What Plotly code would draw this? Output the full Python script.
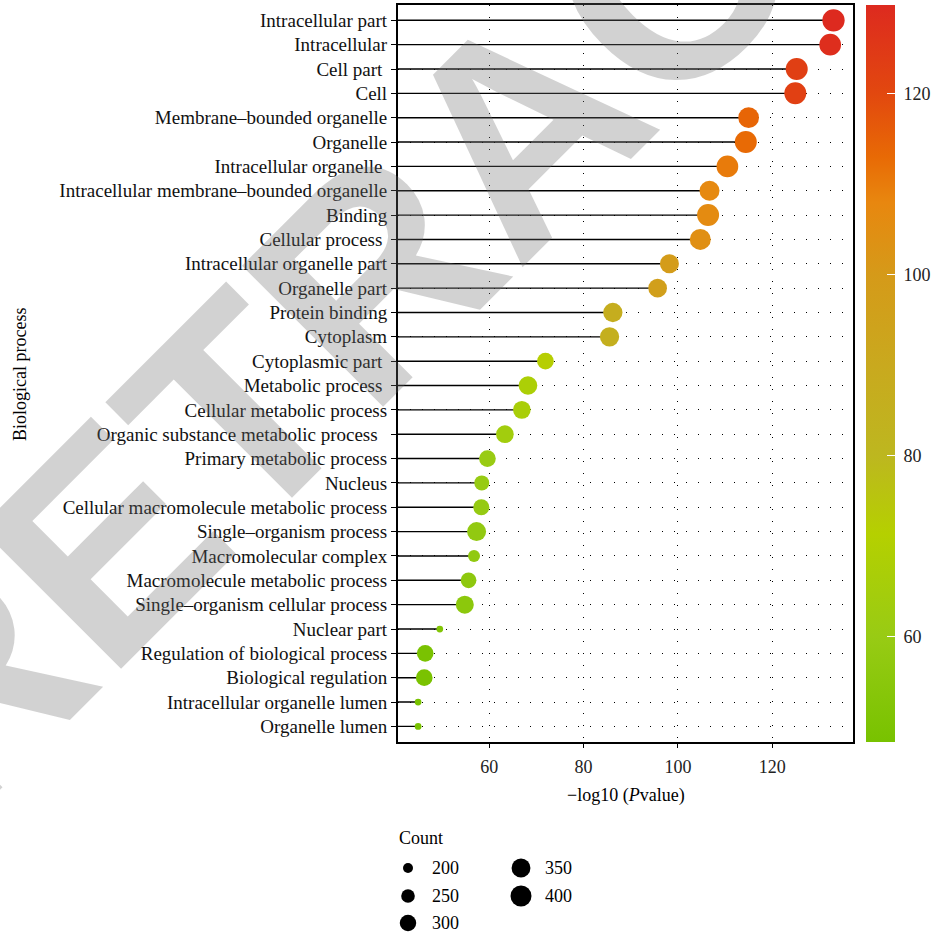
import math
import plotly.graph_objects as go

# GO terms, top to bottom
terms = [
    "Intracellular part", "Intracellular", "Cell part\u00a0", "Cell",
    "Membrane\u2013bounded organelle", "Organelle", "Intracellular organelle\u00a0",
    "Intracellular membrane\u2013bounded organelle", "Binding", "Cellular process\u00a0",
    "Intracellular organelle part", "Organelle part", "Protein binding", "Cytoplasm",
    "Cytoplasmic part\u00a0", "Metabolic process\u00a0", "Cellular metabolic process",
    "Organic substance metabolic process\u00a0\u00a0", "Primary metabolic process", "Nucleus",
    "Cellular macromolecule metabolic process", "Single\u2013organism process",
    "Macromolecular complex", "Macromolecule metabolic process",
    "Single\u2013organism cellular process", "Nuclear part",
    "Regulation of biological process", "Biological regulation",
    "Intracellular organelle lumen", "Organelle lumen",
]

# -log10(P value)
neg_log_p = [133.0, 132.3, 125.2, 124.9, 115.0, 114.4, 110.5, 106.7, 106.4, 104.75,
             98.2, 95.7, 86.2, 85.5, 71.9, 68.2, 66.9, 63.3, 59.6, 58.4,
             58.3, 57.3, 56.75, 55.6, 54.8, 49.5, 46.4, 46.2, 44.9, 44.9]

# colour variable
colour_val = [129.8, 128.5, 123.0, 122.5, 114.0, 113.0, 110.0, 107.0, 106.5, 104.5,
              99.0, 97.0, 87.0, 86.0, 72.0, 68.0, 66.5, 64.0, 60.5, 59.5,
              59.0, 58.0, 57.5, 56.5, 55.5, 52.0, 49.0, 49.0, 48.4, 48.4]

# gene counts
counts = [433, 417, 425, 425, 393, 425, 417, 376, 425, 400,
          353, 346, 360, 360, 305, 346, 325, 325, 305, 273,
          291, 353, 226, 286, 331, 168, 305, 305, 168, 168]

legend_breaks = [200, 250, 300, 350, 400]
x_ticks = [60, 80, 100, 120]
cbar_ticks = [60, 80, 100, 120]

# colour gradient anchors (value, colour)
grad = [(48.4, "#78C200"), (60.0, "#98CB14"), (71.4, "#B5D000"), (80.0, "#BDB71F"),
        (90.0, "#C9A91E"), (100.0, "#D59A19"), (108.0, "#E8870F"), (113.0, "#E86A05"),
        (120.0, "#E2480F"), (129.8, "#DD2A1F")]
cmin, cmax = grad[0][0], grad[-1][0]
colorscale = [[(v - cmin) / (cmax - cmin), c] for v, c in grad]

FONT = "Liberation Serif"
W, H = 938, 935


def diameter(n):
    # area-proportional size scale
    return math.sqrt(1.705 * n - 241.0)


# plot box in pixels
PX0, PX1, PY0, PY1 = 397.7, 853.3, 5.0, 741.7
x_range = [40.57, 137.2]

fig = go.Figure()

# stems from the left edge to each point
seg_x, seg_y = [], []
for t, v in zip(terms, neg_log_p):
    seg_x += [0, v, None]
    seg_y += [t, t, None]
fig.add_trace(go.Scatter(x=seg_x, y=seg_y, mode="lines",
                         line=dict(color="black", width=1.4),
                         hoverinfo="skip", showlegend=False))

fig.add_trace(go.Scatter(
    x=neg_log_p, y=terms, mode="markers", showlegend=False,
    marker=dict(size=[diameter(c) for c in counts], sizemode="diameter",
                color=colour_val, colorscale=colorscale, cmin=cmin, cmax=cmax,
                line=dict(width=0), opacity=1,
                colorbar=dict(
                    x=866 / W, xanchor="left", y=1 - (PY0 + PY1) / 2 / H, yanchor="middle",
                    len=PY1 - PY0, lenmode="pixels", thickness=29, thicknessmode="pixels",
                    outlinewidth=0, tickvals=cbar_ticks,
                    ticktext=["\u00a0" + str(v) for v in cbar_ticks],
                    ticks="inside", ticklen=8, tickcolor="white", tickwidth=1.2,
                    tickfont=dict(family=FONT, size=18, color="#222222"),
                    xpad=0, ypad=0,
                ))))

# size legend (drawn on a pixel-space overlay axis)
col_x = [408, 521]
row_y = [868, 896, 923]
lx = [col_x[i // 3] for i in range(len(legend_breaks))]
ly = [row_y[i % 3] for i in range(len(legend_breaks))]
fig.add_trace(go.Scatter(
    x=lx, y=ly, xaxis="x2", yaxis="y2", mode="markers", showlegend=False,
    marker=dict(size=[diameter(b) for b in legend_breaks], color="#000000",
                opacity=1, line=dict(width=0)),
    hoverinfo="skip"))

annotations = []
for b, xx, yy in zip(legend_breaks, lx, ly):
    annotations.append(dict(x=xx + 22, y=yy, xref="x2", yref="y2", text=str(b),
                            showarrow=False, xanchor="left", yanchor="middle",
                            font=dict(family=FONT, size=18, color="black")))
annotations.append(dict(x=397, y=838, xref="x2", yref="y2", text="Count", showarrow=False,
                        xanchor="left", yanchor="middle",
                        font=dict(family=FONT, size=18, color="black")))
annotations.append(dict(x=(PX0 + PX1) / 2 / W, y=1 - 795 / H, xref="paper", yref="paper",
                        text="\u2212log10 (<i>P</i>value)", showarrow=False,
                        xanchor="center", yanchor="middle",
                        font=dict(family=FONT, size=18, color="black")))
annotations.append(dict(x=20 / W, y=1 - 375 / H, xref="paper", yref="paper",
                        text="Biological process", showarrow=False, textangle=-90,
                        xanchor="center", yanchor="middle",
                        font=dict(family=FONT, size=18, color="black")))
# diagonal stamp across the page
annotations.append(dict(x=520 / W, y=1 - 127 / H, xref="paper", yref="paper",
                        text="<b>RETRACTED</b>", showarrow=False, textangle=-45,
                        xanchor="center", yanchor="middle",
                        font=dict(family="Liberation Sans", size=290,
                                  color="rgba(110,110,110,0.31)")))

n = len(terms)
step = (PY1 - PY0 - 2 * 15.3) / (n - 1)
pad = 15.3 / step

fig.update_layout(
    width=W, height=H, margin=dict(l=0, r=0, t=0, b=0, autoexpand=False),
    paper_bgcolor="white", plot_bgcolor="rgba(0,0,0,0)",
    font=dict(family=FONT, size=18, color="black"),
    xaxis=dict(domain=[PX0 / W, PX1 / W], range=x_range, tickvals=x_ticks,
               ticks="outside", ticklen=5, tickcolor="black", tickwidth=1.2,
               ticklabelstandoff=3,
               showline=True, linecolor="black", linewidth=1.5, mirror=True,
               showgrid=True, gridcolor="black", gridwidth=1, griddash="1px,11px",
               zeroline=False, tickfont=dict(family=FONT, size=18, color="#222222")),
    yaxis=dict(domain=[1 - PY1 / H, 1 - PY0 / H], type="category",
               categoryorder="array", categoryarray=terms,
               range=[n - 1 + pad, -pad], ticks="outside", ticklen=5,
               tickcolor="black", tickwidth=1.2,
               showline=True, linecolor="black", linewidth=1.5, mirror=True,
               showgrid=True, gridcolor="black", gridwidth=1, griddash="1px,11px",
               zeroline=False, tickfont=dict(family=FONT, size=19, color="#111111")),
    xaxis2=dict(domain=[0, 1], range=[0, W], visible=False, anchor="y2", fixedrange=True),
    yaxis2=dict(domain=[0, 1], range=[H, 0], visible=False, anchor="x2", fixedrange=True),
    annotations=annotations,
)

fig.write_html("out.html")
